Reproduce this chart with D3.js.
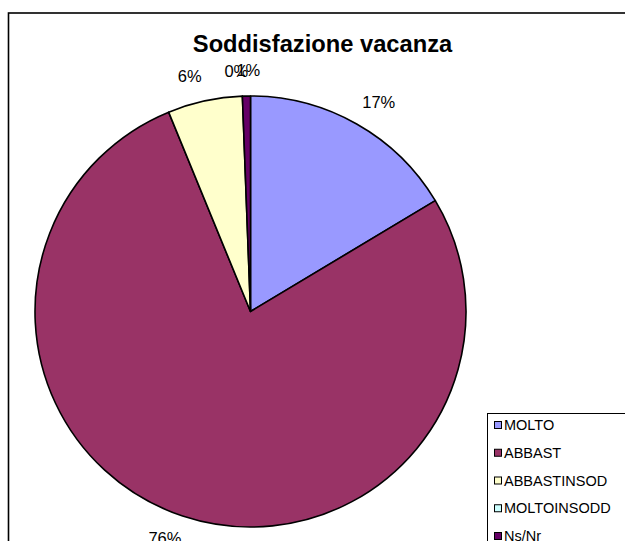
<!DOCTYPE html>
<html>
<head>
<meta charset="utf-8">
<script src="https://cdn.jsdelivr.net/npm/d3@7/dist/d3.min.js"></script>
<style>
  html, body { margin: 0; padding: 0; background: #fff; overflow: hidden; }
  svg { display: block; }
  text { font-family: "Liberation Sans", Arial, sans-serif; }
</style>
</head>
<body>
<svg id="chart" width="625" height="541"></svg>
<script>
// ---- data ----
const title = "Soddisfazione vacanza";
const categories = ["MOLTO", "ABBAST", "ABBASTINSOD", "MOLTOINSODD", "Ns/Nr"];
const values = [16.4, 77.4, 5.6, 0, 0.6];
const pctLabels = ["17%", "76%", "6%", "0%", "1%"];
const colors = ["#9999FF", "#993366", "#FFFFCC", "#CCFFFF", "#660066"];

const svg = d3.select("#chart");

// chart frame (extends past window edges)
svg.append("rect")
  .attr("x", 8.5).attr("y", 13)
  .attr("width", 700).attr("height", 600)
  .attr("fill", "#fff")
  .attr("stroke", "#000").attr("stroke-width", 1.6);

// title
svg.append("text")
  .attr("x", 322.5).attr("y", 52)
  .attr("text-anchor", "middle")
  .attr("font-size", 23.7)
  .attr("font-weight", "bold")
  .attr("fill", "#000")
  .text(title);

// pie
const cx = 250.5, cy = 311.5, R = 215.5;
const pie = d3.pie().sort(null).value(d => d.v).startAngle(0).endAngle(2 * Math.PI);
const data = categories.map((c, i) => ({ c, v: values[i], label: pctLabels[i], color: colors[i] }));
const arcs = pie(data);
const arc = d3.arc().innerRadius(0).outerRadius(R);

const g = svg.append("g").attr("transform", `translate(${cx},${cy})`);
g.selectAll("path.slice")
  .data(arcs.filter(a => a.data.v > 0))
  .join("path")
  .attr("class", "slice")
  .attr("d", arc)
  .attr("fill", d => d.data.color)
  .attr("stroke", "#000")
  .attr("stroke-width", 1.6)
  .attr("stroke-linejoin", "round");

// label placement outside the pie (Excel-like outward offset)
const rx = R + 24.5, ry = R + 24.5;
const pos = arcs.map(d => {
  const a = (d.startAngle + d.endAngle) / 2;
  const s = Math.sin(a), c = Math.cos(a);
  const side = 10 * Math.max(-1, Math.min(1, s / 0.2));
  return { d, x: rx * s + side, y: -ry * c - 1 };
});
// simple collision spreading for overlapping labels
for (let iter = 0; iter < 5; iter++) {
  for (let i = 0; i < pos.length; i++) {
    for (let j = i + 1; j < pos.length; j++) {
      const p = pos[i], q = pos[j];
      if (Math.abs(p.y - q.y) < 10 && Math.abs(p.x - q.x) < 12) {
        const push = (12 - Math.abs(p.x - q.x)) / 2;
        if (p.x <= q.x) { p.x -= push; q.x += push; } else { p.x += push; q.x -= push; }
      }
    }
  }
}

g.selectAll("text.lbl")
  .data(pos)
  .join("text")
  .attr("class", "lbl")
  .attr("x", p => p.x)
  .attr("y", p => p.y)
  .attr("text-anchor", "middle")
  .attr("dy", "0.36em")
  .attr("font-size", 16.5)
  .attr("fill", "#000")
  .text(p => p.d.data.label);

// legend
const lx = 487, ly = 413;
svg.append("rect")
  .attr("x", lx + 0.5).attr("y", ly + 0.5)
  .attr("width", 300).attr("height", 300)
  .attr("fill", "#fff")
  .attr("stroke", "#000").attr("stroke-width", 1);

const rowY = d3.scalePoint().domain(categories).range([425, 536]);
const items = svg.append("g").selectAll("g.item").data(data).join("g")
  .attr("class", "item")
  .attr("transform", d => `translate(0,${rowY(d.c)})`);
items.append("rect")
  .attr("x", 494.5).attr("y", -3.5)
  .attr("width", 7).attr("height", 7)
  .attr("fill", d => d.color)
  .attr("stroke", "#000").attr("stroke-width", 1);
items.append("text")
  .attr("x", 504).attr("y", 0)
  .attr("dy", "0.36em")
  .attr("font-size", 14.5)
  .attr("fill", "#000")
  .text(d => d.c);
</script>
</body>
</html>
